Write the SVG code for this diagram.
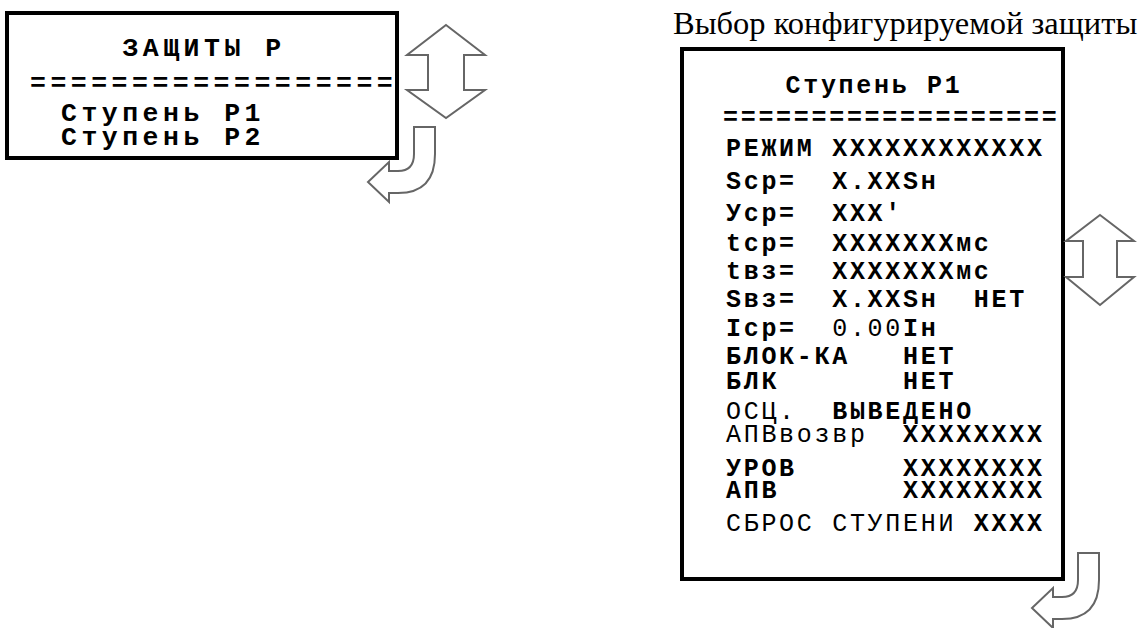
<svg xmlns="http://www.w3.org/2000/svg" width="1140" height="628" viewBox="0 0 1140 628">
<defs>
<style>
.box{fill:#fff;stroke:#000;stroke-width:4}
.arr{fill:#fff;stroke:#666;stroke-width:2;stroke-linejoin:miter}
.m1{font-family:"Liberation Mono","Courier New",monospace;font-weight:bold;font-size:26.5px;letter-spacing:4.5px;fill:#000;white-space:pre}
.m2{font-family:"Liberation Mono","Courier New",monospace;font-weight:bold;font-size:25px;letter-spacing:2.7px;fill:#000;white-space:pre}
.r{font-weight:normal}
.cap{font-family:"Liberation Serif","Times New Roman",serif;font-size:32.5px;fill:#000}
</style>
<path id="bend" d="M0,0 H21 V27 Q21,66 -16,66 H-25 V75 L-46,55 L-25,35 V44 H-16 Q0,44 0,27 Z"/>
</defs>
<rect width="1140" height="628" fill="#fff"/>

<g id="menu-zashchity">
<rect class="box" x="7" y="13" width="390" height="145"/>
<text class="m1" x="204" y="56" text-anchor="middle">ЗАЩИТЫ Р</text>
<text class="m1" x="30" y="91">==================</text>
<text class="m1" x="61" y="121">Ступень Р1</text>
<text class="m1" x="61" y="145">Ступень Р2</text>
</g>

<g id="caption">
<text class="cap" x="673" y="34">Выбор конфигурируемой защиты</text>
</g>

<g id="menu-stupen">
<rect class="box" x="682" y="49" width="381" height="530"/>
<text class="m2" x="874" y="92.5" text-anchor="middle">Ступень Р1</text>
<text class="m2" x="723" y="125">===================</text>
<text class="m2" x="726" y="155.5">РЕЖИМ XXXXXXXXXXXX</text>
<text class="m2" x="726" y="188.5">Scp=  X.XXSн</text>
<text class="m2" x="726" y="220.5">Уср=  XXX'</text>
<text class="m2" x="726" y="250.5">tср=  XXXXXXXмс</text>
<text class="m2" x="726" y="278.5">tвз=  XXXXXXXмс</text>
<text class="m2" x="726" y="306.5">Sвз=  X.XXSн  НЕТ</text>
<text class="m2" x="726" y="335.5">Iср=  <tspan class="r">0.00</tspan>Iн</text>
<text class="m2" x="726" y="363.5">БЛОК-КА   НЕТ</text>
<text class="m2" x="726" y="388.5">БЛК       НЕТ</text>
<text class="m2" x="726" y="418.5"><tspan class="r">ОСЦ.</tspan>  ВЫВЕДЕНО</text>
<text class="m2" x="726" y="441.5"><tspan class="r">АПВвозвр</tspan>  XXXXXXXX</text>
<text class="m2" x="726" y="475.5">УРОВ      XXXXXXXX</text>
<text class="m2" x="726" y="497.5">АПВ       XXXXXXXX</text>
<text class="m2" x="726" y="530.5"><tspan class="r">СБРОС СТУПЕНИ</tspan> XXXX</text>
</g>

<g id="connectors">
<path class="arr" d="M446,25 L485,55 H464 V90 H485 L446,118 L407,90 H428 V55 H407 Z"/>
<use class="arr" href="#bend" x="414" y="127"/>
<path class="arr" d="M1100,215 L1134,241 H1117 V277 H1134 L1100,305 L1066,277 H1083 V241 H1066 Z"/>
<use class="arr" href="#bend" x="1078" y="553"/>
</g>
</svg>
